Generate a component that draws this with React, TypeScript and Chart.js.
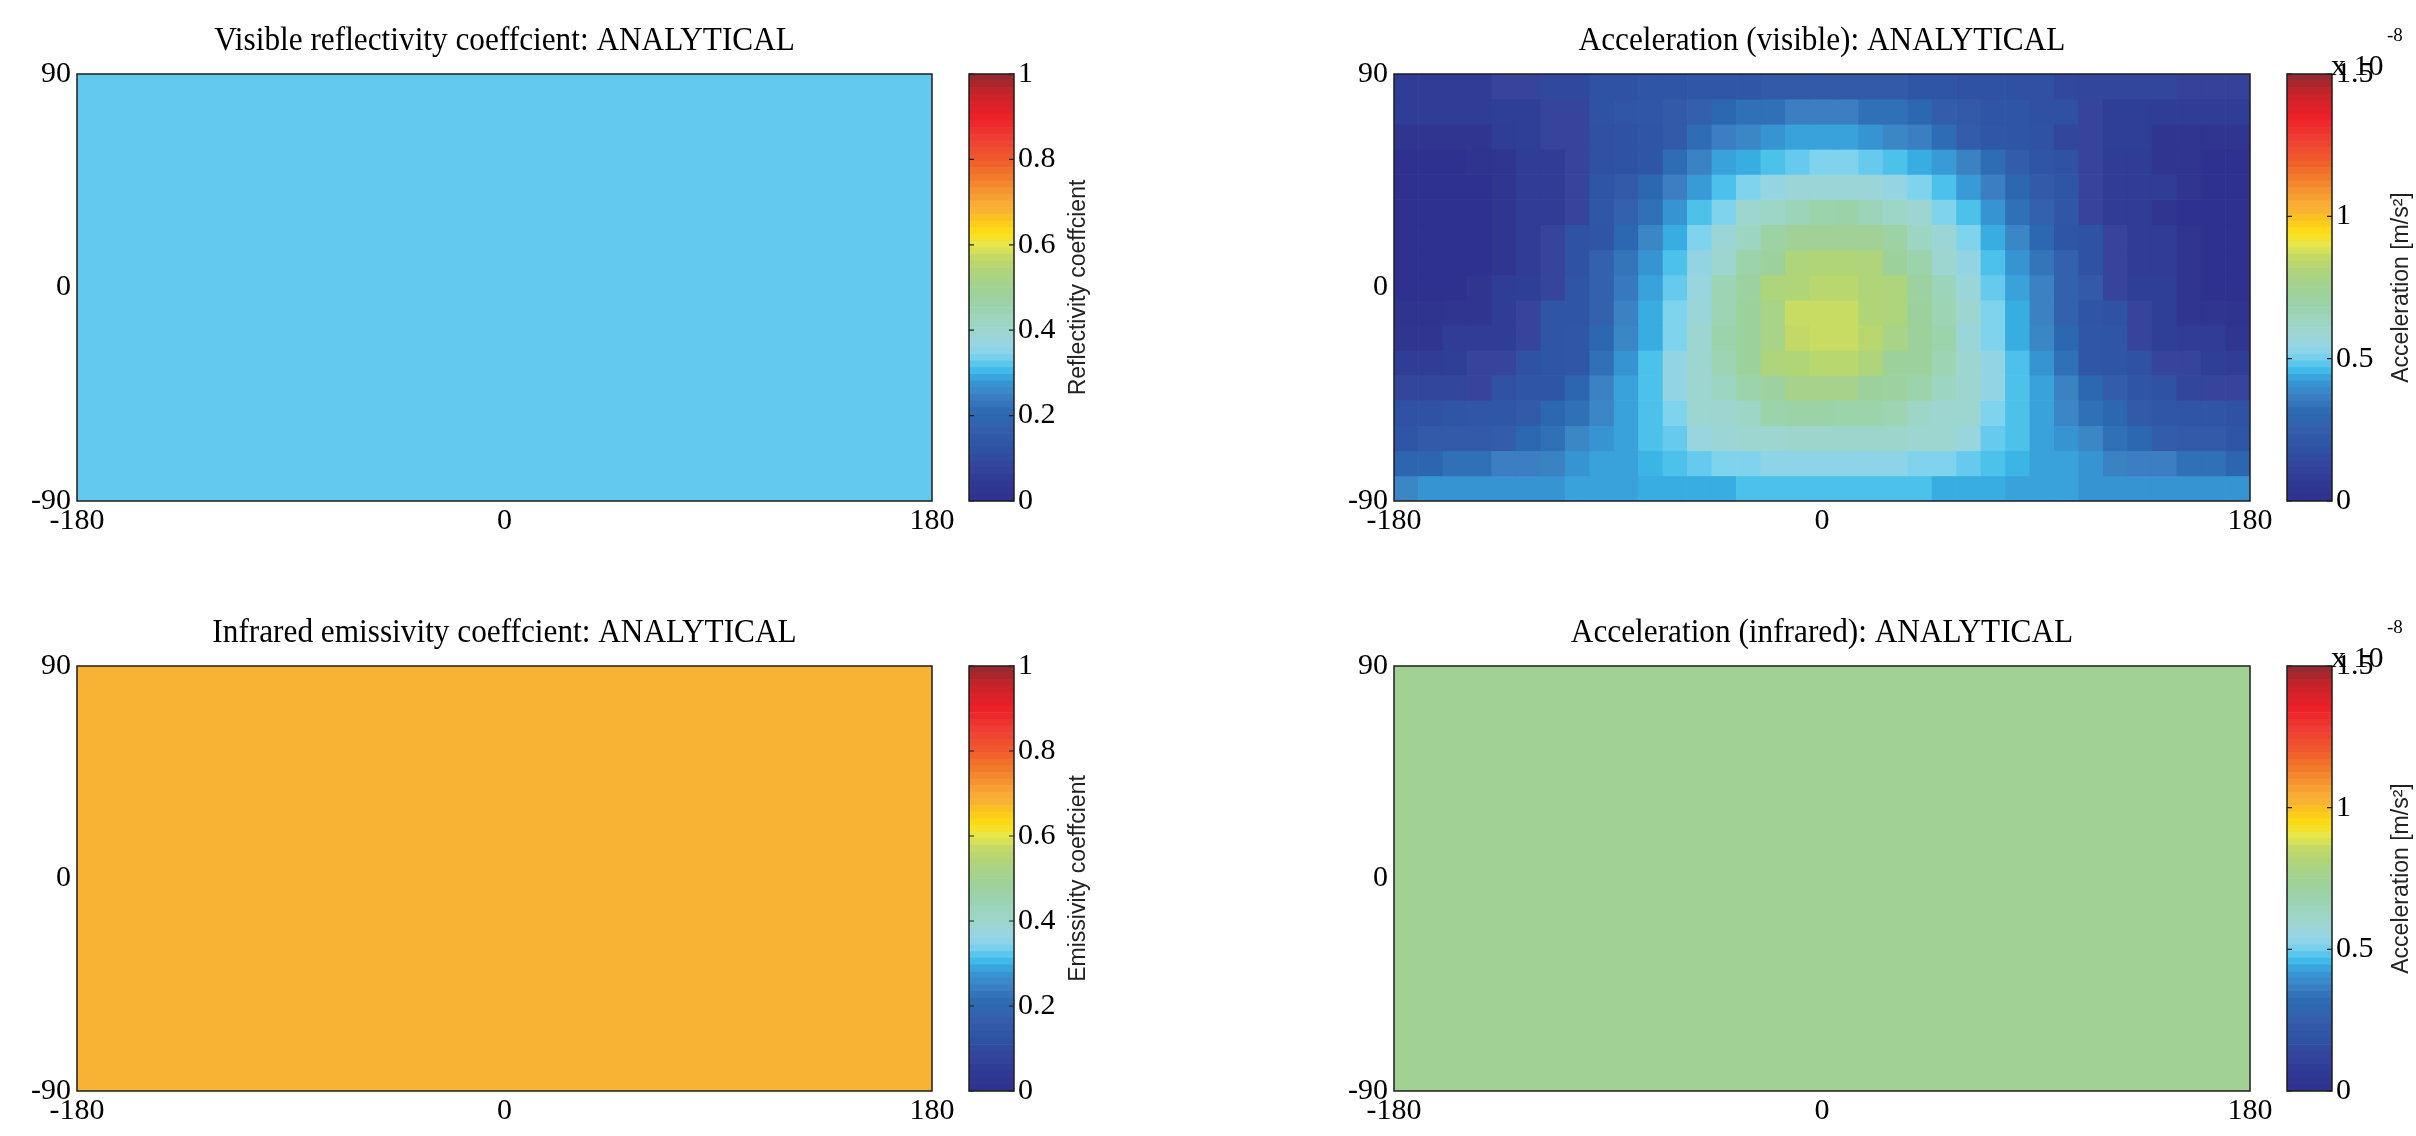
import React, { useEffect, useRef } from "react";
import { Chart, registerables } from "chart.js";

Chart.register(...registerables);

// ---------------- data ----------------
const LON_TICKS = [-180, 0, 180];
const LAT_TICKS = [-90, 0, 90];
const COEF_TICKS = [0, 0.2, 0.4, 0.6, 0.8, 1];
const ACC_TICKS = [0, 0.5, 1, 1.5];

// pcolor cells: 35 longitude cells (left edges, deg), 17 latitude cells (edges, deg)
const LON_CELLS = [-180, -169.7, -159.4, -149.1, -138.9, -128.6, -118.3, -108, -97.7, -87.4, -77.1, -66.9, -56.6, -46.3, -36, -25.7, -15.4, -5.1,
  5.1, 15.4, 25.7, 36, 46.3, 56.6, 66.9, 77.1, 87.4, 97.7, 108, 118.3, 128.6, 138.9, 149.1, 159.4, 169.7];
const LAT_EDGES = [90, 79.41, 68.82, 58.24, 47.65, 37.06, 26.47, 15.88, 5.29, -5.29, -15.88, -26.47, -37.06, -47.65, -58.24, -68.82, -79.41, -90];

// uniform fields
const UNIFORM_LON = [0];
const UNIFORM_LAT = [90, -90];
const VIS_REFLECTIVITY = 0.325;
const IR_EMISSIVITY = 0.68;
const ACC_IR = 0.75; // x 1e-8 m/s^2

// visible acceleration (x 1e-8 m/s^2), rows from north to south
const ACC_VIS_R00 = [0.08,0.08,0.08,0.08,0.12,0.12,0.14,0.14,0.18,0.18,0.20,0.20,0.21,0.21,0.21,0.23,0.23,0.23,0.23,0.23,0.23,0.20,0.20,0.18,0.18,0.17,0.17,0.14,0.13,0.13,0.13,0.13,0.11,0.11,0.11];
const ACC_VIS_R01 = [0.08,0.08,0.08,0.08,0.09,0.09,0.12,0.12,0.18,0.21,0.21,0.23,0.25,0.30,0.33,0.33,0.36,0.36,0.36,0.33,0.33,0.30,0.24,0.23,0.20,0.20,0.17,0.17,0.12,0.09,0.09,0.08,0.08,0.08,0.08];
const ACC_VIS_R02 = [0.03,0.03,0.03,0.03,0.08,0.09,0.12,0.12,0.17,0.18,0.20,0.23,0.32,0.36,0.38,0.41,0.43,0.43,0.43,0.41,0.38,0.36,0.32,0.24,0.21,0.20,0.18,0.13,0.12,0.09,0.09,0.03,0.03,0.03,0.03];
const ACC_VIS_R03 = [0,0,0,0.02,0.03,0.08,0.08,0.12,0.17,0.18,0.20,0.32,0.37,0.43,0.44,0.47,0.49,0.51,0.51,0.49,0.47,0.44,0.42,0.37,0.32,0.24,0.20,0.18,0.12,0.08,0.08,0.03,0.03,0,0];
const ACC_VIS_R04 = [0,0,0,0,0.03,0.08,0.08,0.12,0.20,0.23,0.30,0.36,0.42,0.47,0.51,0.55,0.58,0.58,0.58,0.58,0.55,0.51,0.47,0.42,0.36,0.30,0.23,0.20,0.12,0.08,0.08,0.08,0.03,0,0];
const ACC_VIS_R05 = [0,0,0,0,0.03,0.08,0.08,0.12,0.21,0.26,0.33,0.41,0.47,0.51,0.59,0.62,0.65,0.68,0.69,0.65,0.62,0.59,0.51,0.47,0.41,0.33,0.26,0.21,0.12,0.08,0.08,0.03,0,0,0];
const ACC_VIS_R06 = [0,0,0,0,0.03,0.08,0.12,0.18,0.20,0.30,0.38,0.44,0.51,0.58,0.63,0.70,0.74,0.74,0.74,0.74,0.70,0.63,0.58,0.51,0.44,0.38,0.30,0.20,0.18,0.12,0.08,0.08,0.03,0,0];
const ACC_VIS_R07 = [0,0,0,0,0.03,0.08,0.12,0.18,0.26,0.34,0.41,0.47,0.54,0.59,0.68,0.72,0.80,0.81,0.81,0.80,0.72,0.68,0.59,0.54,0.47,0.41,0.34,0.26,0.18,0.12,0.08,0.08,0.03,0,0];
const ACC_VIS_R08 = [0,0,0,0.03,0.08,0.09,0.12,0.20,0.26,0.35,0.43,0.49,0.56,0.66,0.71,0.80,0.81,0.83,0.83,0.81,0.80,0.71,0.65,0.57,0.49,0.43,0.37,0.26,0.23,0.12,0.09,0.09,0.03,0,0];
const ACC_VIS_R09 = [0.02,0.02,0.03,0.03,0.08,0.12,0.20,0.20,0.26,0.37,0.44,0.51,0.57,0.66,0.72,0.78,0.86,0.86,0.86,0.81,0.80,0.72,0.66,0.59,0.51,0.44,0.37,0.26,0.20,0.18,0.12,0.09,0.03,0.03,0.02];
const ACC_VIS_R10 = [0.03,0.03,0.08,0.08,0.08,0.12,0.20,0.21,0.30,0.38,0.44,0.51,0.59,0.68,0.72,0.78,0.85,0.86,0.86,0.83,0.78,0.72,0.68,0.57,0.51,0.44,0.38,0.30,0.21,0.20,0.12,0.09,0.08,0.08,0.03];
const ACC_VIS_R11 = [0.08,0.08,0.09,0.12,0.12,0.18,0.20,0.21,0.33,0.41,0.47,0.54,0.59,0.66,0.72,0.80,0.81,0.83,0.83,0.80,0.72,0.72,0.66,0.59,0.54,0.47,0.41,0.33,0.21,0.20,0.18,0.12,0.12,0.09,0.08];
const ACC_VIS_R12 = [0.13,0.13,0.13,0.12,0.18,0.20,0.20,0.29,0.37,0.43,0.47,0.54,0.59,0.63,0.68,0.71,0.77,0.77,0.77,0.72,0.71,0.68,0.63,0.59,0.54,0.47,0.43,0.37,0.30,0.24,0.20,0.18,0.13,0.12,0.12];
const ACC_VIS_R13 = [0.18,0.18,0.20,0.21,0.21,0.23,0.30,0.33,0.38,0.43,0.47,0.51,0.59,0.59,0.62,0.68,0.69,0.69,0.68,0.68,0.66,0.62,0.59,0.59,0.51,0.47,0.43,0.38,0.33,0.30,0.23,0.21,0.20,0.20,0.18];
const ACC_VIS_R14 = [0.20,0.23,0.23,0.23,0.24,0.30,0.33,0.38,0.41,0.43,0.47,0.49,0.56,0.58,0.59,0.59,0.60,0.60,0.60,0.60,0.60,0.59,0.59,0.56,0.49,0.47,0.43,0.41,0.38,0.33,0.30,0.24,0.23,0.23,0.20];
const ACC_VIS_R15 = [0.29,0.29,0.33,0.33,0.36,0.36,0.37,0.41,0.43,0.43,0.45,0.47,0.49,0.51,0.51,0.53,0.53,0.53,0.53,0.53,0.53,0.51,0.51,0.49,0.47,0.45,0.43,0.43,0.41,0.37,0.36,0.36,0.33,0.33,0.29];
const ACC_VIS_R16 = [0.38,0.41,0.41,0.41,0.41,0.41,0.41,0.43,0.43,0.43,0.44,0.44,0.44,0.44,0.47,0.47,0.47,0.47,0.47,0.47,0.47,0.47,0.44,0.44,0.44,0.43,0.43,0.43,0.41,0.41,0.41,0.41,0.41,0.41,0.41];
const ACC_VIS = [ACC_VIS_R00, ACC_VIS_R01, ACC_VIS_R02, ACC_VIS_R03, ACC_VIS_R04, ACC_VIS_R05, ACC_VIS_R06, ACC_VIS_R07, ACC_VIS_R08,
  ACC_VIS_R09, ACC_VIS_R10, ACC_VIS_R11, ACC_VIS_R12, ACC_VIS_R13, ACC_VIS_R14, ACC_VIS_R15, ACC_VIS_R16];

// ---------------- colormap (style) ----------------
const CMAP_STOPS: [number, string][] = [
  [0.00, "#2e3190"], [0.02, "#30358f"], [0.05, "#2f3c96"], [0.06, "#2f3f98"], [0.08, "#37449b"], [0.09, "#30479d"],
  [0.11, "#2f4fa2"], [0.12, "#2f52a4"], [0.135, "#2f55a6"], [0.15, "#3159a8"], [0.17, "#3560ad"], [0.20, "#2b68b1"],
  [0.22, "#3070b7"], [0.24, "#3b7ec1"], [0.255, "#3b87c6"], [0.27, "#3591d0"], [0.285, "#3a9fd9"], [0.295, "#36b0e4"],
  [0.31, "#45c0ea"], [0.325, "#63c9ee"], [0.34, "#80d3ec"], [0.355, "#8fd4e6"], [0.37, "#97d5e0"], [0.39, "#9dd5d3"],
  [0.40, "#9dd5cb"], [0.42, "#9dd5c3"], [0.45, "#9bd3ad"], [0.48, "#9dd19c"], [0.51, "#a5d28e"], [0.54, "#b0d577"],
  [0.57, "#c4da66"], [0.60, "#e8e74a"], [0.63, "#fddc12"], [0.66, "#fcc520"], [0.68, "#f8b334"], [0.70, "#f8a835"],
  [0.75, "#f3802b"], [0.80, "#ef5a2b"], [0.85, "#ef3d34"], [0.90, "#ec1f26"], [0.95, "#cb2229"], [1.00, "#8e2a2f"],
];
const CBAR_LEVELS = 64;

function hexRgb(h: string) {
  return [parseInt(h.slice(1, 3), 16), parseInt(h.slice(3, 5), 16), parseInt(h.slice(5, 7), 16)];
}
function cmap(f: number) {
  const t = Math.max(0, Math.min(1, f));
  for (let i = 1; i < CMAP_STOPS.length; i++) {
    const [f1, c1] = CMAP_STOPS[i];
    if (t <= f1) {
      const [f0, c0] = CMAP_STOPS[i - 1];
      const a = hexRgb(c0), b = hexRgb(c1);
      const u = (t - f0) / (f1 - f0 || 1);
      const r = a.map((v, k) => Math.round(v + (b[k] - v) * u));
      return `rgb(${r[0]},${r[1]},${r[2]})`;
    }
  }
  return CMAP_STOPS[CMAP_STOPS.length - 1][1];
}

// ---------------- layout (style) ----------------
const AX_LEFT = 77;
const PAD_TOP = 74;
const PAD_RIGHT = 30;
const AX_BOTTOM = 60;
const CB_GAP = 37;
const CB_W = 45;
const CB_CANVAS_W = 140;
const CB_PAD_LEFT = 10;

const SERIF = '"Liberation Serif", "Times New Roman", serif';
const SANS = '"Liberation Sans", Arial, sans-serif';

type Plot = { left: number; top: number; width: number; height: number };
type Spec = {
  title: string;
  plot: Plot;
  lonCells: number[];
  latEdges: number[];
  rows: number[][];
  vmax: number;
  cbTicks: number[];
  cbLabel: string;
  exponent: boolean;
  labelOffset: number;
};

const heatDecor = {
  id: "heatDecor",
  afterDraw(chart: any, _args: any, opts: any) {
    const { ctx, chartArea: a } = chart;
    ctx.save();
    ctx.strokeStyle = "#1e1e1e";
    ctx.lineWidth = 1.5;
    ctx.strokeRect(a.left, a.top, a.right - a.left, a.bottom - a.top);
    ctx.fillStyle = "#000";
    ctx.font = `34px ${SERIF}`;
    ctx.textAlign = "center";
    ctx.textBaseline = "middle";
    ctx.translate((a.left + a.right) / 2, a.top - 33);
    ctx.scale(0.92, 1);
    ctx.fillText(opts.text, 0, 0);
    ctx.restore();
  },
};

const cbarDecor = {
  id: "cbarDecor",
  afterDraw(chart: any, _args: any, opts: any) {
    const { ctx, chartArea: a } = chart;
    const ys = chart.scales.y;
    ctx.save();
    ctx.strokeStyle = "#1e1e1e";
    ctx.lineWidth = 1.5;
    ctx.strokeRect(a.left, a.top, a.right - a.left, a.bottom - a.top);
    ctx.lineWidth = 1.2;
    ys.ticks.forEach((t: any) => {
      const y = ys.getPixelForValue(t.value);
      ctx.beginPath();
      ctx.moveTo(a.left, y);
      ctx.lineTo(a.left + 5, y);
      ctx.moveTo(a.right - 5, y);
      ctx.lineTo(a.right, y);
      ctx.stroke();
    });
    // rotated colorbar label
    ctx.fillStyle = "#222";
    ctx.font = `23px ${SANS}`;
    ctx.textAlign = "center";
    ctx.textBaseline = "middle";
    ctx.save();
    ctx.translate(a.right + opts.labelOffset, (a.top + a.bottom) / 2);
    ctx.rotate(-Math.PI / 2);
    ctx.fillText(opts.label, 0, 0);
    ctx.restore();
    if (opts.exponent) {
      ctx.fillStyle = "#000";
      ctx.textAlign = "left";
      ctx.textBaseline = "alphabetic";
      ctx.font = `30px ${SERIF}`;
      ctx.fillText("x 10", a.right - 1, a.top + 1);
      ctx.font = `19px ${SERIF}`;
      ctx.fillText("-8", a.right + 55, a.top - 33);
    }
    ctx.restore();
  },
};

function fixedTicks(values: number[]) {
  return (scale: any) => {
    scale.ticks = values.map((value) => ({ value }));
  };
}

function HeatMap({ spec }: { spec: Spec }) {
  const ref = useRef<HTMLCanvasElement>(null);
  const W = spec.plot.width + AX_LEFT + PAD_RIGHT;
  const H = spec.plot.height + PAD_TOP + AX_BOTTOM;
  useEffect(() => {
    const datasets = spec.rows.map((row, r) => ({
      data: spec.lonCells.map(() => [spec.latEdges[r + 1], spec.latEdges[r]]),
      backgroundColor: row.map((v) => cmap(v / spec.vmax)),
      borderWidth: 0,
      grouped: false,
      barPercentage: 1,
      categoryPercentage: 1,
      xAxisID: "x",
      yAxisID: "y",
    }));
    const tickFont = { family: SERIF, size: 30, lineHeight: 1.2 };
    const chart = new Chart(ref.current as HTMLCanvasElement, {
      type: "bar",
      data: { labels: spec.lonCells, datasets: datasets as any },
      plugins: [heatDecor],
      options: {
        responsive: false,
        animation: false,
        events: [],
        layout: { padding: { left: 0, top: PAD_TOP, right: PAD_RIGHT, bottom: 0 } },
        plugins: {
          legend: { display: false },
          tooltip: { enabled: false },
          heatDecor: { text: spec.title },
        } as any,
        scales: {
          x: { type: "category", display: false, offset: true },
          lon: {
            type: "linear",
            position: "bottom",
            min: -180,
            max: 180,
            offset: false,
            afterBuildTicks: fixedTicks(LON_TICKS),
            afterFit: (s: any) => { s.height = AX_BOTTOM; },
            grid: { display: false, drawTicks: false, offset: false },
            border: { display: false },
            ticks: { font: tickFont, color: "#000", padding: 2, autoSkip: false, maxRotation: 0, callback: (v: any) => String(v) },
          },
          y: {
            type: "linear",
            min: -90,
            max: 90,
            afterBuildTicks: fixedTicks(LAT_TICKS),
            afterFit: (s: any) => { s.width = AX_LEFT; },
            grid: { display: false, drawTicks: false },
            border: { display: false },
            ticks: { font: tickFont, color: "#000", padding: 6, autoSkip: false, callback: (v: any) => String(v) },
          },
        } as any,
      },
    });
    return () => chart.destroy();
  }, []);
  return (
    <canvas
      ref={ref}
      width={W}
      height={H}
      style={{ position: "absolute", left: spec.plot.left - AX_LEFT, top: spec.plot.top - PAD_TOP, width: W, height: H }}
    />
  );
}

function ColorBar({ spec }: { spec: Spec }) {
  const ref = useRef<HTMLCanvasElement>(null);
  const W = CB_CANVAS_W;
  const H = spec.plot.height + PAD_TOP + AX_BOTTOM;
  const cbLeft = spec.plot.left + spec.plot.width + CB_GAP;
  useEffect(() => {
    const bands = Array.from({ length: CBAR_LEVELS }, (_, i) => i);
    const datasets = bands.map((i) => ({
      data: [[(spec.vmax * i) / CBAR_LEVELS, (spec.vmax * (i + 1)) / CBAR_LEVELS]],
      backgroundColor: cmap((i + 0.5) / CBAR_LEVELS),
      borderWidth: 0,
      grouped: false,
      barPercentage: 1,
      categoryPercentage: 1,
    }));
    const chart = new Chart(ref.current as HTMLCanvasElement, {
      type: "bar",
      data: { labels: ["colorbar"], datasets: datasets as any },
      plugins: [cbarDecor],
      options: {
        responsive: false,
        animation: false,
        events: [],
        layout: { padding: { left: CB_PAD_LEFT, top: PAD_TOP, right: 0, bottom: AX_BOTTOM } },
        plugins: {
          legend: { display: false },
          tooltip: { enabled: false },
          cbarDecor: { label: spec.cbLabel, exponent: spec.exponent, labelOffset: spec.labelOffset },
        } as any,
        scales: {
          x: { type: "category", display: false, offset: true },
          y: {
            type: "linear",
            position: "right",
            min: 0,
            max: spec.vmax,
            afterBuildTicks: fixedTicks(spec.cbTicks),
            afterFit: (s: any) => { s.width = W - CB_PAD_LEFT - CB_W; },
            grid: { display: false, drawTicks: false },
            border: { display: false },
            ticks: { font: { family: SERIF, size: 30, lineHeight: 1.2 }, color: "#000", padding: 4, autoSkip: false, callback: (v: any) => String(v) },
          },
        } as any,
      },
    });
    return () => chart.destroy();
  }, []);
  return (
    <canvas
      ref={ref}
      width={W}
      height={H}
      style={{ position: "absolute", left: cbLeft - CB_PAD_LEFT, top: spec.plot.top - PAD_TOP, width: W, height: H }}
    />
  );
}

const PANELS: Spec[] = [
  {
    title: "Visible reflectivity coeffcient: ANALYTICAL",
    plot: { left: 77, top: 74, width: 855, height: 427 },
    lonCells: UNIFORM_LON,
    latEdges: UNIFORM_LAT,
    rows: [[VIS_REFLECTIVITY]],
    vmax: 1,
    cbTicks: COEF_TICKS,
    cbLabel: "Reflectivity coeffcient",
    exponent: false,
    labelOffset: 65,
  },
  {
    title: "Acceleration (visible): ANALYTICAL",
    plot: { left: 1394, top: 74, width: 856, height: 427 },
    lonCells: LON_CELLS,
    latEdges: LAT_EDGES,
    rows: ACC_VIS,
    vmax: 1.5,
    cbTicks: ACC_TICKS,
    cbLabel: "Acceleration [m/s²]",
    exponent: true,
    labelOffset: 70,
  },
  {
    title: "Infrared emissivity coeffcient: ANALYTICAL",
    plot: { left: 77, top: 666, width: 855, height: 425 },
    lonCells: UNIFORM_LON,
    latEdges: UNIFORM_LAT,
    rows: [[IR_EMISSIVITY]],
    vmax: 1,
    cbTicks: COEF_TICKS,
    cbLabel: "Emissivity coeffcient",
    exponent: false,
    labelOffset: 65,
  },
  {
    title: "Acceleration (infrared): ANALYTICAL",
    plot: { left: 1394, top: 666, width: 856, height: 425 },
    lonCells: UNIFORM_LON,
    latEdges: UNIFORM_LAT,
    rows: [[ACC_IR]],
    vmax: 1.5,
    cbTicks: ACC_TICKS,
    cbLabel: "Acceleration [m/s²]",
    exponent: true,
    labelOffset: 70,
  },
];

export default function App() {
  return (
    <div style={{ position: "fixed", left: 0, top: 0, width: 2416, height: 1136, overflow: "hidden", background: "#fff" }}>
      {PANELS.map((p, i) => (
        <React.Fragment key={i}>
          <HeatMap spec={p} />
          <ColorBar spec={p} />
        </React.Fragment>
      ))}
    </div>
  );
}
